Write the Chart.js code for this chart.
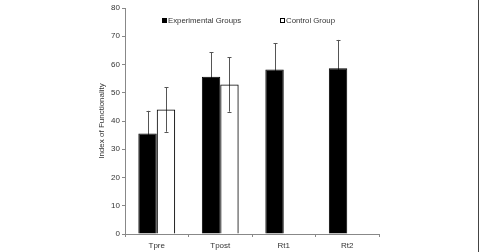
<!DOCTYPE html>
<html lang="en">
<head>
<meta charset="UTF-8">
<title>Index of Functionality</title>
<script src="https://cdn.jsdelivr.net/npm/chart.js"></script>
<style>
  html, body { margin: 0; padding: 0; background: #fff; }
  #wrap { position: relative; width: 481px; height: 252px; }
  #frame { position: absolute; left: 478px; top: 0; width: 1px; height: 252px; background: #444; }
</style>
</head>
<body>
<div id="wrap">
  <canvas id="myBarGraph" width="481" height="252"></canvas>
  <div id="frame"></div>
</div>
<script>
// chart data
var categories = ['Tpre', 'Tpost', 'Rt1', 'Rt2'];
var seriesNames = ['Experimental Groups', 'Control Group'];
var experimental = [35.6, 55.7, 58.2, 58.7];
var experimentalSD = [8.0, 8.6, 9.3, 10.0];
var control = [44.1, 52.9, null, null];
var controlSD = [7.9, 9.6, null, null];
var yTicks = [0, 10, 20, 30, 40, 50, 60, 70, 80];

var errors = [experimentalSD, controlSD];
var fontFamily = '"Liberation Sans", Arial, sans-serif';

// error bars, drawn before the bars so the black bars hide the lower half
var errorBarPlugin = {
    id: 'errorBars',
    beforeDatasetsDraw: function (chart) {
        var ctx = chart.ctx;
        var yScale = chart.scales.y;
        ctx.save();
        ctx.strokeStyle = '#555';
        ctx.lineWidth = 1;
        chart.data.datasets.forEach(function (ds, i) {
            var meta = chart.getDatasetMeta(i);
            meta.data.forEach(function (bar, j) {
                var v = ds.data[j];
                var sd = errors[i][j];
                if (v == null || sd == null) return;
                var x = Math.round(bar.x) + 0.5;
                var yTop = yScale.getPixelForValue(v + sd);
                var yBot = yScale.getPixelForValue(v - sd);
                ctx.beginPath();
                ctx.moveTo(x, yTop);
                ctx.lineTo(x, yBot);
                ctx.moveTo(x - 2, Math.round(yTop) + 0.5);
                ctx.lineTo(x + 2, Math.round(yTop) + 0.5);
                ctx.moveTo(x - 2, Math.round(yBot) + 0.5);
                ctx.lineTo(x + 2, Math.round(yBot) + 0.5);
                ctx.stroke();
            });
        });
        ctx.restore();
    }
};

// legend inside the plot, like the original figure
var legendPlugin = {
    id: 'innerLegend',
    afterDraw: function (chart) {
        var ctx = chart.ctx;
        var xs = [162, 280];
        var y = 20.5;
        ctx.save();
        ctx.font = '7.8px ' + fontFamily;
        ctx.textBaseline = 'middle';
        chart.data.datasets.forEach(function (ds, i) {
            ctx.fillStyle = i === 0 ? '#000' : '#fff';
            ctx.fillRect(xs[i], y - 2.5, 5, 5);
            ctx.strokeStyle = '#000';
            ctx.lineWidth = 1;
            ctx.strokeRect(xs[i] + 0.5, y - 2, 4, 4);
            ctx.fillStyle = '#333';
            ctx.fillText(ds.label, xs[i] + 6, y + 0.5);
        });
        ctx.restore();
    }
};

var ctx = document.getElementById('myBarGraph').getContext('2d');
var myBarGraph = new Chart(ctx, {
    type: 'bar',
    data: {
        labels: categories,
        datasets: [{
            label: seriesNames[0],
            data: experimental,
            backgroundColor: '#000',
            borderColor: '#000',
            borderWidth: 1
        }, {
            label: seriesNames[1],
            data: control,
            backgroundColor: 'transparent',
            borderColor: '#000',
            borderWidth: 1
        }]
    },
    options: {
        responsive: false,
        animation: false,
        categoryPercentage: 0.58,
        barPercentage: 1.0,
        layout: { padding: { left: 0, right: 102, top: 8, bottom: 0 } },
        plugins: {
            legend: { display: false },
            tooltip: { enabled: false }
        },
        scales: {
            x: {
                offset: true,
                afterFit: function (scale) { scale.height = 18; },
                grid: {
                    offset: true,
                    drawOnChartArea: false,
                    color: '#888',
                    tickLength: 3
                },
                border: { color: '#888', width: 1 },
                ticks: {
                    color: '#333',
                    padding: 4,
                    font: { family: fontFamily, size: 8 }
                }
            },
            y: {
                min: 0,
                max: 80,
                afterFit: function (scale) { scale.width = 125; },
                afterBuildTicks: function (axis) {
                    axis.ticks = yTicks.map(function (v) { return { value: v }; });
                },
                grid: {
                    drawOnChartArea: false,
                    color: '#888',
                    tickLength: 3
                },
                border: { color: '#888', width: 1 },
                ticks: {
                    color: '#333',
                    padding: 2,
                    font: { family: fontFamily, size: 8 }
                },
                title: {
                    display: true,
                    text: 'Index of Functionality',
                    color: '#333',
                    padding: { top: 97, bottom: 0 },
                    font: { family: fontFamily, size: 8 }
                }
            }
        }
    },
    plugins: [errorBarPlugin, legendPlugin]
});
</script>
</body>
</html>
